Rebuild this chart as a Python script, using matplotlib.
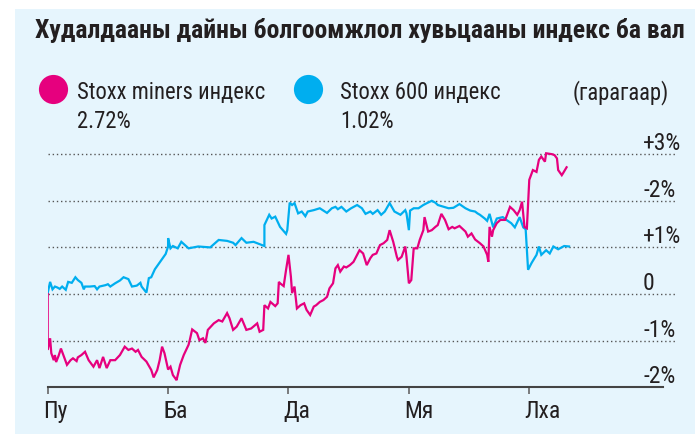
import matplotlib
matplotlib.use("Agg")
import matplotlib.pyplot as plt
import matplotlib.transforms as mtransforms
from matplotlib import font_manager as fm
from matplotlib.lines import Line2D
from matplotlib.patches import Rectangle

# fonts - want something condensed like the original
avail = {f.name for f in fm.fontManager.ttflist}
cond = next((f for f in ["Liberation Sans Narrow", "Roboto Condensed", "Open Sans Condensed"] if f in avail), None)
stretch = "normal"
if cond is None:
    cond = "DejaVu Sans"
    stretch = "condensed"
plt.rcParams["font.family"] = [cond, "DejaVu Sans"]

# data (day 0 = Monday open, values in %)
title = "Худалдааны дайны болгоомжлол хувьцааны индекс ба вал"  # cut like that in the original
days = ["Пу", "Ба", "Да", "Мя", "Лха"]
series_names = ["Stoxx miners индекс", "Stoxx 600 индекс"]
series_last = ["2.72%", "1.02%"]
y_levels = [3, 2, 1, 0, -1, -2]
y_labels = ["+3%", "-2%", "+1%", "0", "-1%", "-2%"]

miners_t = [0.00, 0.00, 0.02, 0.03, 0.05, 0.06, 0.07, 0.09, 0.11, 0.13, 0.16, 0.19, 0.21, 0.24, 0.25,
            0.28, 0.31, 0.34, 0.38, 0.41, 0.43, 0.46, 0.49, 0.52, 0.56, 0.60, 0.64, 0.67, 0.70, 0.73,
            0.75, 0.78, 0.82, 0.86, 0.88, 0.91, 0.93, 0.95, 0.97, 1.00, 1.02, 1.04, 1.06, 1.07, 1.10,
            1.13, 1.17, 1.18, 1.20, 1.24, 1.26, 1.29, 1.31, 1.33, 1.38, 1.42, 1.45, 1.49, 1.51, 1.54,
            1.57, 1.61, 1.65, 1.69, 1.74, 1.76, 1.79, 1.80, 1.83, 1.85, 1.89, 1.91, 1.92, 1.93, 1.96,
            1.98, 2.00, 2.02, 2.03, 2.05, 2.07, 2.10, 2.13, 2.15, 2.18, 2.21, 2.23, 2.26, 2.29, 2.32,
            2.34, 2.37, 2.39, 2.41, 2.43, 2.46, 2.48, 2.51, 2.54, 2.57, 2.59, 2.62, 2.65, 2.68, 2.70,
            2.73, 2.76, 2.79, 2.82, 2.84, 2.87, 2.90, 2.91, 2.94, 2.97, 2.98, 3.00, 3.02, 3.04, 3.07,
            3.09, 3.12, 3.13, 3.16, 3.19, 3.22, 3.24, 3.27, 3.30, 3.33, 3.36, 3.38, 3.42, 3.47, 3.49,
            3.52, 3.55, 3.59, 3.62, 3.65, 3.66, 3.67, 3.69, 3.70, 3.73, 3.76, 3.80, 3.84, 3.87, 3.90,
            3.92, 3.94, 3.96, 3.98, 4.00, 4.03, 4.06, 4.08, 4.10, 4.13, 4.14, 4.19, 4.21, 4.23, 4.24,
            4.27, 4.28, 4.31]
miners_v = [0.00, -1.20, -0.95, -1.27, -1.42, -1.31, -1.46, -1.33, -1.17, -1.31, -1.52, -1.42, -1.38, -1.44, -1.36,
            -1.31, -1.24, -1.42, -1.56, -1.42, -1.59, -1.35, -1.59, -1.42, -1.42, -1.31, -1.13, -1.20, -1.17, -1.24,
            -1.20, -1.35, -1.45, -1.63, -1.79, -1.63, -1.42, -1.13, -1.27, -1.62, -1.56, -1.74, -1.81, -1.85, -1.52,
            -1.31, -1.09, -0.99, -0.76, -0.84, -0.99, -0.95, -1.05, -0.77, -0.63, -0.56, -0.59, -0.41, -0.52, -0.77,
            -0.70, -0.52, -0.77, -0.74, -0.63, -0.81, -0.77, -0.24, -0.31, -0.17, -0.26, -0.20, 0.26, 0.23, 0.17,
            0.52, 0.84, 0.37, 0.02, 0.16, -0.31, -0.24, -0.20, -0.34, -0.45, -0.27, -0.24, -0.17, -0.13, -0.06,
            0.12, 0.23, 0.55, 0.62, 0.48, 0.59, 0.57, 0.62, 0.69, 0.84, 0.94, 0.87, 0.62, 0.77, 0.84,
            0.87, 1.05, 1.09, 1.16, 1.37, 1.12, 0.80, 0.73, 0.80, 1.02, 0.80, 0.23, 0.30, 0.98, 0.98,
            1.16, 1.37, 1.65, 1.34, 1.37, 1.44, 1.48, 1.72, 1.59, 1.39, 1.44, 1.41, 1.46, 1.34, 1.23,
            1.30, 1.17, 1.09, 1.02, 0.84, 0.69, 1.44, 1.23, 1.37, 1.52, 1.59, 1.59, 1.87, 1.80, 1.70,
            1.80, 1.98, 1.44, 1.41, 2.45, 2.66, 2.62, 2.88, 2.95, 2.84, 3.02, 3.00, 2.98, 2.91, 2.66,
            2.55, 2.59, 2.72]

stoxx_t = [0.00, 0.02, 0.04, 0.06, 0.08, 0.10, 0.12, 0.15, 0.17, 0.20, 0.23, 0.25, 0.28, 0.30, 0.31,
           0.35, 0.39, 0.41, 0.43, 0.48, 0.50, 0.52, 0.56, 0.60, 0.63, 0.67, 0.70, 0.74, 0.77, 0.78,
           0.82, 0.84, 0.86, 0.89, 0.92, 0.95, 0.98, 1.00, 1.00, 1.02, 1.04, 1.08, 1.11, 1.14, 1.17,
           1.25, 1.35, 1.42, 1.49, 1.54, 1.56, 1.61, 1.65, 1.71, 1.80, 1.80, 1.84, 1.86, 1.89, 1.93,
           1.98, 1.99, 2.01, 2.03, 2.05, 2.08, 2.11, 2.14, 2.16, 2.21, 2.26, 2.32, 2.36, 2.39, 2.41,
           2.44, 2.48, 2.52, 2.57, 2.61, 2.64, 2.68, 2.70, 2.74, 2.77, 2.80, 2.84, 2.88, 2.93, 2.97,
           2.98, 3.00, 3.01, 3.04, 3.08, 3.12, 3.15, 3.19, 3.22, 3.24, 3.29, 3.33, 3.37, 3.42, 3.47,
           3.51, 3.55, 3.57, 3.59, 3.63, 3.65, 3.67, 3.70, 3.73, 3.78, 3.81, 3.85, 3.88, 3.92, 3.95,
           3.97, 3.99, 4.02, 4.06, 4.08, 4.10, 4.14, 4.17, 4.20, 4.24, 4.29, 4.33]
stoxx_v = [0.02, 0.26, 0.10, 0.16, 0.14, 0.11, 0.16, 0.09, 0.26, 0.24, 0.36, 0.30, 0.24, 0.10, 0.16,
           0.16, 0.17, 0.10, 0.16, 0.19, 0.21, 0.16, 0.23, 0.29, 0.36, 0.32, 0.16, 0.18, 0.24, 0.16,
           0.03, 0.34, 0.36, 0.53, 0.64, 0.75, 0.86, 1.02, 1.20, 0.98, 1.03, 0.98, 1.12, 1.05, 0.98,
           1.02, 1.00, 1.16, 1.14, 1.10, 1.05, 1.20, 1.10, 1.12, 1.03, 1.48, 1.70, 1.62, 1.66, 1.44,
           1.29, 1.37, 1.96, 1.91, 1.95, 1.73, 1.77, 1.67, 1.77, 1.80, 1.84, 1.74, 1.84, 1.87, 1.82,
           1.87, 1.77, 1.84, 1.91, 1.84, 1.72, 1.77, 1.72, 1.80, 1.70, 1.77, 1.95, 1.77, 1.70, 1.80,
           1.73, 1.37, 1.79, 1.84, 1.84, 1.91, 1.95, 2.00, 1.96, 1.91, 1.87, 1.84, 1.85, 1.93, 1.84,
           1.79, 1.77, 1.73, 1.70, 1.62, 1.57, 1.72, 1.43, 1.62, 1.65, 1.59, 1.52, 1.43, 1.65, 1.43,
           1.39, 0.52, 0.67, 0.84, 1.02, 0.84, 0.94, 0.87, 1.02, 0.96, 1.03, 1.02]

pink = "#e6007e"
blue = "#00aeef"
bg = "#e6f5fd"
ink = "#231f20"

W, H = 695, 434
fig = plt.figure(figsize=(W / 100, H / 100), dpi=100)
fig.patch.set_facecolor("white")
fig.add_artist(Rectangle((15 / W, 0), 1, 1 - 9.3 / H, transform=fig.transFigure,
                         facecolor=bg, edgecolor="none", zorder=-10))

def px(x, y):
    return x / W, 1 - y / H

# header
fig.text(*px(35, 38.3), title, fontsize=18.5, fontweight="bold", color=ink, va="baseline",
         fontstretch=stretch)
for (cx, tx), col, name, last in zip([(53.3, 76.7), (307.7, 340)], [pink, blue], series_names, series_last):
    fig.add_artist(Line2D([cx / W], [1 - 89 / H], marker="o", ms=21, color=col, mec="none",
                          transform=fig.transFigure))
    fig.text(*px(tx, 99), name, fontsize=16.3, color=ink, va="baseline", fontstretch=stretch)
    fig.text(*px(tx, 128.3), last, fontsize=16.3, color=ink, va="baseline", fontstretch=stretch)
fig.text(*px(573, 99), "(гарагаар)", fontsize=16.3, color=ink, va="baseline", fontstretch=stretch)

# chart
ax = fig.add_axes([47.7 / W, (H - 387.2) / H, (677 - 47.7) / W, (387.2 - 140) / H])
ax.set_facecolor("none")
ax.set_xlim(0, 5.227)
ax.set_ylim(-2, 3.305)

for v in y_levels[:-1]:
    ax.axhline(v, color="#555555", lw=1, ls=(0, (1, 2)), zorder=1)

ax.plot(stoxx_t, stoxx_v, color=blue, lw=1.6, zorder=3, solid_joinstyle="miter")
ax.plot(miners_t, miners_v, color=pink, lw=1.6, zorder=4, solid_joinstyle="miter")

lab_tr = mtransforms.offset_copy(mtransforms.blended_transform_factory(ax.transAxes, ax.transData),
                                 fig=fig, y=4, units="dots")
for v, s in zip(y_levels, y_labels):
    ax.text(0.946, v, s, transform=lab_tr, fontsize=17, color=ink, va="baseline", ha="left",
            fontstretch=stretch)

for side in ["top", "right", "left"]:
    ax.spines[side].set_visible(False)
ax.spines["bottom"].set_color("#444444")
ax.spines["bottom"].set_linewidth(1.5)
ax.spines["bottom"].set_bounds(0, 5.11)
ax.set_yticks([])
ax.set_xticks(range(len(days)))
ax.set_xticklabels(days, ha="left", fontsize=17, color=ink, fontstretch=stretch)
ax.tick_params(axis="x", length=5, width=1.2, color="#666666", pad=4)
shift = mtransforms.ScaledTranslation(-5 / 100, 0, fig.dpi_scale_trans)
for lbl in ax.get_xticklabels():
    lbl.set_transform(lbl.get_transform() + shift)

fig.savefig("out.png", dpi=100, facecolor="white")
